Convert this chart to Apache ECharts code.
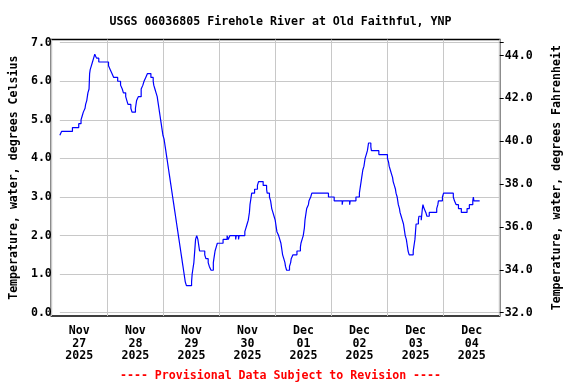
<!DOCTYPE html>
<html>
<head>
<meta charset="utf-8">
<script src="https://cdn.jsdelivr.net/npm/echarts@6/dist/echarts.min.js"></script>
<style>
html,body{margin:0;padding:0;background:#fff;}
#chart{width:576px;height:384px;}
</style>
</head>
<body>
<div id="chart"></div>
<script>
// Hours since 2025-11-27 00:00 at which the reading changes, and the new reading (deg C)
const hours = [0,0.75,5.5,8.25,9.25,9.75,10.25,11,11.25,11.75,12.25,12.75,13,13.25,13.75,14.25,14.75,15.25,16,17,
21.25,22,22.75,23.5,25.25,26.5,27.25,27.75,28.75,29.25,29.75,31,31.5,33,33.5,34.25,35.5,36.25,36.75,37.5,38.25,
39.75,40.75,41,41.5,42,42.5,42.75,43,43.25,43.5,43.75,44,44.25,44.5,44.75,45,45.5,45.75,46,46.25,46.5,46.75,47,
47.25,47.5,47.75,48,48.25,48.5,48.75,49,49.25,49.5,49.75,50,50.25,50.5,50.75,51,51.25,51.5,51.75,52,52.25,52.5,
52.75,53,53.25,53.5,53.75,54,54.25,54.5,54.75,55.25,57.5,57.75,58,58.25,58.5,58.75,59,59.25,59.75,60.25,60.5,
60.75,61,63.25,63.75,64.75,65.25,66,67,67.25,67.5,67.75,68.25,68.75,71.25,73,73.5,74.25,76.75,77,78,78.25,80.75,
81.25,81.75,82.25,82.5,82.75,83,83.25,83.5,83.75,85,86.25,86.75,88.75,90.25,90.5,91.5,92,92.25,92.5,93,93.5,94,
94.25,94.5,94.75,95.5,96,96.5,96.75,97,97.25,97.75,98.25,98.5,99,100.25,100.75,101,101.75,103.5,105,105.25,
105.75,106.25,106.5,106.75,107,107.5,107.75,108.5,108.75,109.5,110,117.25,119.75,123.25,123.5,126.5,126.75,
129.25,130.75,131,131.25,131.5,131.75,132,132.25,132.75,133,133.25,133.75,134.25,134.5,134.75,135.75,136,139.25,
143,143.5,143.75,144.25,144.75,145.25,145.5,146,146.5,146.75,147.25,147.5,147.75,148.25,148.5,149,149.5,150,
150.25,150.5,150.75,151.25,151.5,151.75,152,152.5,154.25,154.5,154.75,155,155.25,155.5,156.5,156.75,157.75,
158.25,158.5,159,159.75,160.25,161.25,164.5,165,165.25,167,167.5,171.75,172.25,173,174,175.25,177.75,178.75,
180.25,180.5,180.75,183.25];
const temps = [4.6,4.7,4.8,4.9,5.0,5.1,5.2,5.3,5.4,5.5,5.7,5.8,6.2,6.3,6.4,6.5,6.6,6.7,6.6,6.5,
6.4,6.3,6.2,6.1,6.0,5.9,5.8,5.7,5.6,5.5,5.4,5.3,5.2,5.3,5.5,5.6,5.8,5.9,6.0,6.1,6.2,
6.1,6.0,5.9,5.8,5.7,5.6,5.5,5.4,5.3,5.2,5.1,5.0,4.9,4.8,4.7,4.6,4.5,4.4,4.3,4.2,4.1,4.0,3.9,
3.8,3.7,3.6,3.5,3.4,3.3,3.2,3.1,3.0,2.9,2.8,2.7,2.6,2.5,2.4,2.3,2.2,2.1,2.0,1.9,1.8,1.7,
1.6,1.5,1.4,1.3,1.2,1.1,1.0,0.9,0.8,0.7,0.8,1.0,1.1,1.2,1.3,1.5,1.7,1.9,2.0,1.9,1.8,
1.7,1.6,1.5,1.4,1.3,1.2,1.1,1.3,1.4,1.5,1.6,1.7,1.8,1.9,2.0,1.9,2.0,1.9,2.0,1.9,2.0,2.1,
2.2,2.3,2.4,2.5,2.6,2.8,2.9,3.0,3.1,3.2,3.3,3.4,3.3,3.2,3.1,3.0,2.9,2.8,2.7,2.6,2.5,2.4,
2.3,2.2,2.1,2.0,1.9,1.8,1.7,1.6,1.5,1.4,1.3,1.2,1.1,1.2,1.3,1.4,1.5,1.6,1.7,1.8,
1.9,2.0,2.1,2.2,2.4,2.6,2.7,2.8,2.9,3.0,3.1,3.0,2.9,2.8,2.9,2.8,2.9,
3.0,3.1,3.2,3.3,3.4,3.5,3.6,3.7,3.8,3.9,4.0,4.1,4.2,4.3,4.4,4.3,4.2,4.1,
4.0,3.9,3.8,3.7,3.6,3.5,3.4,3.3,3.2,3.1,3.0,2.9,2.8,2.7,2.6,2.5,2.4,2.3,
2.2,2.1,2.0,1.9,1.8,1.7,1.6,1.5,1.6,1.7,1.8,1.9,2.1,2.3,2.4,2.5,2.4,
2.7,2.8,2.7,2.6,2.5,2.6,2.7,2.8,2.9,3.0,3.1,3.0,2.9,2.8,2.7,2.6,2.7,2.8,
2.9,3.0,2.9,2.9];
const dayLabels = ['Nov\n27\n2025','Nov\n28\n2025','Nov\n29\n2025','Nov\n30\n2025','Dec\n01\n2025','Dec\n02\n2025','Dec\n03\n2025','Dec\n04\n2025'];
const celsiusTicks = {min: 0, max: 7, interval: 1};
const fahrenheitTicks = {min: 32, interval: 2};
const titleText = 'USGS 06036805 Firehole River at Old Faithful, YNP';
const footerText = '---- Provisional Data Subject to Revision ----';
const leftName = 'Temperature, water, degrees Celsius';
const rightName = 'Temperature, water, degrees Fahrenheit';

const base = Date.UTC(2025, 10, 27, 0, 0);
const seriesData = hours.map((h, i) => [base + h * 3600000, temps[i]]);

const FONT = 'DejaVu Sans Mono';
const FS = 11.6;
const chart = echarts.init(document.getElementById('chart'), null, {renderer: 'canvas'});
chart.setOption({
  animation: false,
  backgroundColor: '#fff',
  textStyle: {fontFamily: FONT},
  title: [
    {text: titleText, left: 275.5, top: 11, textAlign: 'center',
     textStyle: {fontFamily: FONT, fontSize: FS, fontWeight: 'bold', color: '#000'}},
    {text: footerText, left: 275.5, top: 365, textAlign: 'center',
     textStyle: {fontFamily: FONT, fontSize: FS, fontWeight: 'bold', color: '#ff0000'}}
  ],
  grid: [
    {left: 51.3, right: 76.3, top: 39.5, bottom: 68, show: true, borderColor: '#000', borderWidth: 1.5, backgroundColor: 'transparent'},
    {left: 51.3, right: 76.3, top: 42.7, bottom: 71.3}
  ],
  xAxis: [
    {type: 'category', gridIndex: 0, data: dayLabels, boundaryGap: true,
     axisLine: {show: false}, axisTick: {show: false},
     splitLine: {show: true, lineStyle: {color: '#c8c8c8', width: 1}},
     axisLabel: {interval: 0, margin: 9, lineHeight: 12.5, fontFamily: FONT, fontSize: FS, fontWeight: 'bold', color: '#000'}},
    {type: 'time', gridIndex: 1, min: base, max: base + 8 * 86400000, show: false}
  ],
  yAxis: [
    {type: 'value', gridIndex: 1, position: 'left', min: celsiusTicks.min, max: celsiusTicks.max, interval: celsiusTicks.interval,
     name: leftName, nameLocation: 'middle', nameGap: 34, nameRotate: 90,
     nameTextStyle: {fontFamily: FONT, fontSize: FS, fontWeight: 'bold', color: '#000'},
     axisLine: {show: false}, axisTick: {show: false},
     splitLine: {show: true, lineStyle: {color: '#c8c8c8', width: 1}},
     axisLabel: {margin: 8, padding: [4, 0, 0, 0], formatter: v => v.toFixed(1), fontFamily: FONT, fontSize: FS, fontWeight: 'bold', color: '#000'}},
    {type: 'value', gridIndex: 1, position: 'right', min: fahrenheitTicks.min, max: 32 + 1.8 * celsiusTicks.max, interval: fahrenheitTicks.interval,
     name: rightName, nameLocation: 'middle', nameGap: 51, nameRotate: 90,
     nameTextStyle: {fontFamily: FONT, fontSize: FS, fontWeight: 'bold', color: '#000'},
     axisLine: {show: false},
     axisTick: {show: true, length: 4, lineStyle: {color: '#000', width: 1}},
     splitLine: {show: false},
     axisLabel: {margin: 5, padding: [4, 0, 0, 0], showMaxLabel: true, formatter: v => (v > 44.5 ? '' : v.toFixed(1)), fontFamily: FONT, fontSize: FS, fontWeight: 'bold', color: '#000'}},
    {type: 'value', gridIndex: 0, min: 0, max: 1, show: false}
  ],
  series: [{
    type: 'line', xAxisIndex: 1, yAxisIndex: 0, data: seriesData, step: 'end',
    showSymbol: false, symbol: 'none',
    lineStyle: {color: '#0000ff', width: 1.2}
  }]
});
</script>
</body>
</html>
